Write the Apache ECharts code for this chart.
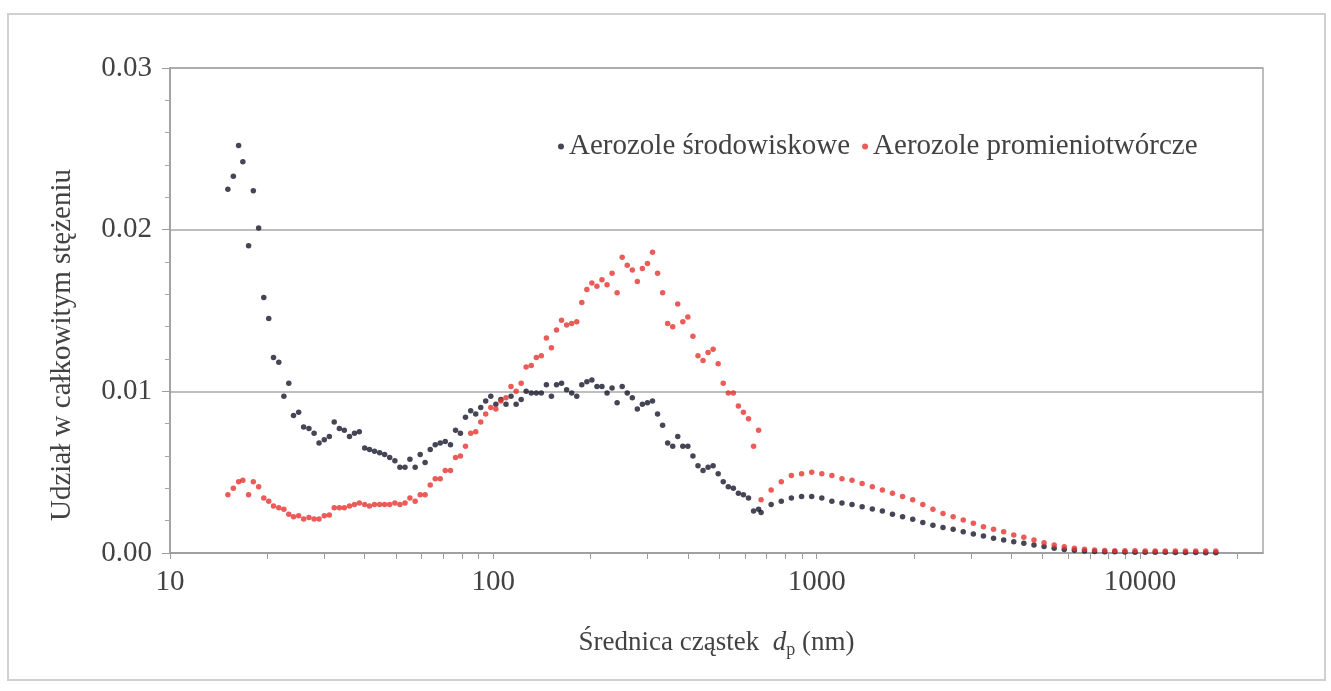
<!DOCTYPE html>
<html>
<head>
<meta charset="UTF-8">
<title>Aerozole</title>
<style>
    html, body { margin: 0; padding: 0; background: #fff; }
    #chartArea { width: 1331px; height: 691px; }
</style>
</head>
<body>
<div id="chartArea"></div>
<script src="https://cdn.jsdelivr.net/npm/echarts@6/dist/echarts.min.js"></script>
<script>
// SMPS channels (nm)
var smpsSize = [15.1, 15.7, 16.3, 16.8, 17.5, 18.1, 18.8, 19.5, 20.2, 20.9,
    21.7, 22.5, 23.3, 24.1, 25.0, 25.9, 26.9, 27.9, 28.9, 30.0,
    31.1, 32.2, 33.4, 34.6, 35.9, 37.2, 38.5, 40.0, 41.4, 42.9,
    44.5, 46.1, 47.8, 49.6, 51.4, 53.3, 55.2, 57.3, 59.4, 61.5,
    63.8, 66.1, 68.5, 71.0, 73.7, 76.4, 79.1, 82.0, 85.1, 88.2,
    91.4, 94.7, 98.2, 101.8, 105.5, 109.4, 113.4, 117.6, 121.9, 126.3,
    131.0, 135.8, 140.7, 145.9, 151.2, 156.8, 162.5, 168.5, 174.7, 181.1,
    187.7, 194.6, 201.7, 209.1, 216.7, 224.7, 232.9, 241.4, 250.3, 259.5,
    269.0, 278.8, 289.0, 299.6, 310.6, 322.0, 333.8, 346.0, 358.7, 371.8,
    385.4, 399.5, 414.2, 429.4, 445.1, 461.4, 478.3, 495.8, 514.0, 532.8,
    552.3, 572.5, 593.5, 615.3, 637.8, 661.2];

var envSmps = [0.0225, 0.0233, 0.0252, 0.0242, 0.0190, 0.0224, 0.0201, 0.0158, 0.0145, 0.0121,
    0.0118, 0.0097, 0.0105, 0.0085, 0.0087, 0.0078, 0.0077, 0.0074, 0.0068, 0.0070,
    0.0072, 0.0081, 0.0077, 0.0076, 0.0072, 0.0074, 0.0075, 0.0065, 0.0064, 0.0063,
    0.0062, 0.0061, 0.0059, 0.0057, 0.0053, 0.0053, 0.0058, 0.0053, 0.0061, 0.0056,
    0.0064, 0.0067, 0.0068, 0.0069, 0.0067, 0.0076, 0.0074, 0.0084, 0.0088, 0.0086,
    0.0090, 0.0094, 0.0097, 0.0092, 0.0095, 0.0092, 0.0097, 0.0092, 0.0095, 0.0100,
    0.0099, 0.0099, 0.0099, 0.0104, 0.0097, 0.0104, 0.0105, 0.0101, 0.0099, 0.0097,
    0.0104, 0.0106, 0.0107, 0.0103, 0.0103, 0.0099, 0.0102, 0.0093, 0.0103, 0.0099,
    0.0096, 0.0089, 0.0092, 0.0093, 0.0094, 0.0086, 0.0079, 0.0068, 0.0066, 0.0072,
    0.0066, 0.0066, 0.0060, 0.0054, 0.0051, 0.0053, 0.0054, 0.0049, 0.0044, 0.0041,
    0.0040, 0.0037, 0.0036, 0.0034, 0.0026, 0.0027];

var radSmps = [0.0036, 0.0040, 0.0044, 0.0045, 0.0036, 0.0044, 0.0041, 0.0034, 0.0032, 0.0029,
    0.0028, 0.0027, 0.0024, 0.00225, 0.0023, 0.0021, 0.0022, 0.0021, 0.0021, 0.0023,
    0.00235, 0.0028, 0.0028, 0.0028, 0.0029, 0.0030, 0.0031, 0.0030, 0.0029, 0.0030,
    0.0030, 0.0030, 0.0030, 0.0031, 0.0030, 0.0031, 0.0034, 0.0032, 0.0036, 0.0036,
    0.0042, 0.0046, 0.0046, 0.0051, 0.0051, 0.0059, 0.0060, 0.0066, 0.0074, 0.0075,
    0.0081, 0.0086, 0.0090, 0.0089, 0.0094, 0.0096, 0.0103, 0.0100, 0.0105, 0.0115,
    0.0116, 0.0121, 0.0122, 0.0133, 0.0127, 0.0138, 0.0144, 0.0141, 0.0142, 0.0143,
    0.0155, 0.0163, 0.0167, 0.0165, 0.0169, 0.0166, 0.0173, 0.0161, 0.0183, 0.0178,
    0.0175, 0.0168, 0.0176, 0.0179, 0.0186, 0.0173, 0.0161, 0.0142, 0.0140, 0.0154,
    0.0143, 0.0146, 0.0134, 0.0122, 0.0119, 0.0124, 0.0126, 0.0117, 0.0105, 0.0099,
    0.0099, 0.0091, 0.0087, 0.0083, 0.0066, 0.0076];

// APS channels (nm)
var apsSize = [673, 723, 777, 835, 898, 965, 1037, 1114, 1197, 1286,
    1382, 1486, 1596, 1715, 1843, 1981, 2129, 2288, 2458, 2642,
    2839, 3051, 3278, 3523, 3786, 4068, 4371, 4698, 5048, 5425,
    5829, 6264, 6732, 7234, 7774, 8354, 8977, 9647, 10370, 11140,
    11970, 12860, 13820, 14860, 15960, 17150];

var envAps = [0.0025, 0.0030, 0.0032, 0.0034, 0.0035, 0.0035, 0.0034, 0.0032, 0.0031, 0.0030,
    0.00286, 0.00272, 0.0026, 0.0024, 0.00225, 0.00208, 0.00188, 0.00172, 0.00158, 0.00147,
    0.00132, 0.00118, 0.00105, 0.00091, 0.0008, 0.0007, 0.0006, 0.0005, 0.0004, 0.0003,
    0.00022, 0.00017, 0.00013, 0.0001, 0.00008, 0.00007, 0.00006, 0.00005, 0.00005, 0.00004,
    0.00004, 0.00003, 0.00003, 0.00003, 0.00002, 0.00002];

var radAps = [0.0033, 0.0039, 0.0044, 0.0048, 0.0049, 0.0050, 0.0049, 0.0048, 0.0046, 0.0045,
    0.0043, 0.0041, 0.0039, 0.0037, 0.0035, 0.0033, 0.0030, 0.0027, 0.00245, 0.00225,
    0.00204, 0.00184, 0.00163, 0.00147, 0.00132, 0.00111, 0.00097, 0.0008, 0.00064, 0.00049,
    0.00039, 0.00029, 0.00023, 0.00019, 0.00016, 0.00014, 0.00014, 0.00014, 0.00013, 0.00013,
    0.00013, 0.00013, 0.00012, 0.00012, 0.00012, 0.00012];

var xLabels = [10, 100, 1000, 10000];
var xTicks = [10, 20, 30, 40, 50, 60, 70, 80, 90,
    100, 200, 300, 400, 500, 600, 700, 800, 900,
    1000, 2000, 3000, 4000, 5000, 6000, 7000, 8000, 9000,
    10000, 20000];

var seriesNames = ['Aerozole środowiskowe', 'Aerozole promieniotwórcze'];

function pairs(xs, ys) {
    return xs.map(function (x, i) { return [x, ys[i]]; });
}

var FONT = '"Liberation Serif", "DejaVu Serif", serif';
var TXT = '#424242';

var myChart = echarts.init(document.getElementById('chartArea'));
myChart.setOption({
    animation: false,
    backgroundColor: '#fff',
    textStyle: { fontFamily: FONT, color: TXT },
    grid: {
        left: 170, right: 68, top: 68, bottom: 138,
        show: true, borderColor: '#a8a8a8', borderWidth: 1.5
    },
    legend: {
        left: 553, top: 127,
        icon: 'circle',
        itemWidth: 6, itemHeight: 6,
        itemGap: 12,
        textStyle: { fontFamily: FONT, fontSize: 29, color: TXT },
        data: seriesNames
    },
    xAxis: {
        type: 'log',
        logBase: 10,
        min: 10,
        max: 24000,
        axisLine: { lineStyle: { color: '#9c9c9c', width: 1.5 } },
        axisTick: { show: true, length: 6, customValues: xTicks, lineStyle: { color: '#9c9c9c' } },
        axisLabel: {
            customValues: xLabels,
            margin: 15,
            fontFamily: FONT, fontSize: 29, color: TXT,
            formatter: function (v) { return String(Math.round(v)); }
        },
        splitLine: { show: false },
        name: '{a|Średnica cząstek  }{i|d}{s|p}{a| (nm)}',
        nameLocation: 'middle',
        nameGap: 74,
        nameTextStyle: {
            rich: {
                a: { fontFamily: FONT, fontSize: 27, color: TXT },
                i: { fontFamily: FONT, fontSize: 27, color: TXT, fontStyle: 'italic' },
                s: { fontFamily: FONT, fontSize: 18, color: TXT, padding: [14, 0, 0, 0] }
            }
        }
    },
    yAxis: {
        type: 'value',
        min: 0,
        max: 0.03,
        interval: 0.01,
        axisLine: { show: true, lineStyle: { color: '#9c9c9c', width: 1.5 } },
        axisTick: { show: true, length: 8, lineStyle: { color: '#9c9c9c' } },
        minorTick: { show: true, splitNumber: 5, length: 5, lineStyle: { color: '#a8a8a8' } },
        axisLabel: {
            margin: 18,
            fontFamily: FONT, fontSize: 29, color: TXT,
            formatter: function (v) { return v.toFixed(2); }
        },
        splitLine: { show: true, lineStyle: { color: '#a8a8a8', width: 1.5 } }
    },
    graphic: [
        {
            type: 'rect',
            shape: { x: 8, y: 14, width: 1317, height: 666 },
            style: { fill: 'none', stroke: '#d0d0d0', lineWidth: 2 },
            silent: true
        },
        {
            type: 'text',
            x: 62, y: 345,
            rotation: Math.PI / 2,
            style: {
                text: 'Udział w całkowitym stężeniu',
                fontFamily: FONT, fontSize: 29, fill: TXT,
                align: 'center', verticalAlign: 'middle'
            }
        }
    ],
    series: [
        {
            name: seriesNames[0],
            type: 'scatter',
            symbol: 'circle',
            symbolSize: 5.5,
            itemStyle: { color: '#16162a' },
            data: pairs(smpsSize, envSmps).concat(pairs(apsSize, envAps))
        },
        {
            name: seriesNames[1],
            type: 'scatter',
            symbol: 'circle',
            symbolSize: 5.5,
            itemStyle: { color: '#e6332f' },
            data: pairs(smpsSize, radSmps).concat(pairs(apsSize, radAps))
        }
    ]
});
</script>
</body>
</html>
